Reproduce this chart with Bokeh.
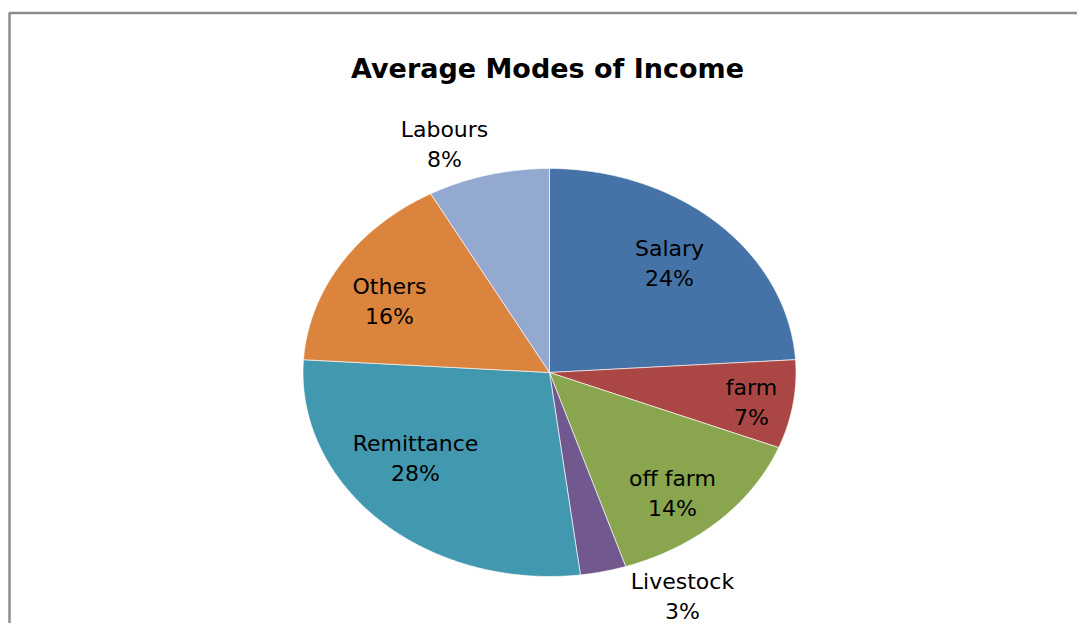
import numpy as np
from bokeh.plotting import figure
from bokeh.models import Range1d, ColumnDataSource
from bokeh.core.properties import value
from bokeh.embed import file_html
from bokeh.resources import INLINE

# ---- data ----
categories = ["Salary", "farm", "off farm", "Livestock", "Remittance", "Others", "Labours"]
shares = [24, 7, 14, 3, 28, 16, 8]
colors = ["#4572A7", "#AA4643", "#89A54E", "#71588F", "#4198AF", "#DB843D", "#93A9CF"]
title_text = "Average Modes of Income"

# ---- layout (figure pixel coordinates, y downwards) ----
W, H = 1077, 623
CX, CY = 549.0, 372.0
RX, RY = 246.5, 204.0
# label centres (name line) for each slice
label_pos = [(669, 248), (751, 387), (672, 478), (682, 581), (415, 443), (389, 286), (444, 129)]
LINE_GAP = 30
FONT = "DejaVu Sans"

p = figure(width=W, height=H, output_backend="svg", toolbar_location=None,
           x_range=Range1d(0, W), y_range=Range1d(H, 0),
           min_border=0, outline_line_color=None)
p.xaxis.visible = False
p.yaxis.visible = False
p.grid.visible = False
p.background_fill_color = "white"
p.border_fill_color = "white"

# frame (top and left edges visible)
p.line(x=[9, 9, W + 10], y=[H + 10, 12.5, 12.5], line_color="#8C8C8C", line_width=2.5)

# pie slices as elliptical patches, clockwise from 12 o'clock
total = float(sum(shares))
fr = np.cumsum([0.0] + shares) / total
xs, ys = [], []
for i in range(len(shares)):
    t = np.linspace(fr[i], fr[i + 1], max(8, int(shares[i] * 6))) * 2 * np.pi
    xs.append([CX] + list(CX + RX * np.sin(t)) + [CX])
    ys.append([CY] + list(CY - RY * np.cos(t)) + [CY])
src = ColumnDataSource(dict(xs=xs, ys=ys, color=colors))
p.patches("xs", "ys", source=src, fill_color="color", line_color="white",
          line_width=0.8, line_alpha=0.8)

# labels
lx = [q[0] for q in label_pos]
ly = [q[1] for q in label_pos]
pct = ["%d%%" % s for s in shares]
p.text(x=lx, y=ly, text=categories, text_font=value(FONT), text_font_size="22px",
       text_align="center", text_baseline="middle", text_color="black")
p.text(x=lx, y=[v + LINE_GAP for v in ly], text=pct, text_font=value(FONT),
       text_font_size="22px", text_align="center", text_baseline="middle", text_color="black")

# title
p.text(x=[547], y=[68], text=[title_text], text_font=value(FONT), text_font_size="27px",
       text_font_style="bold", text_align="center", text_baseline="middle", text_color="black")

open("out.html", "w").write(file_html(p, INLINE))
